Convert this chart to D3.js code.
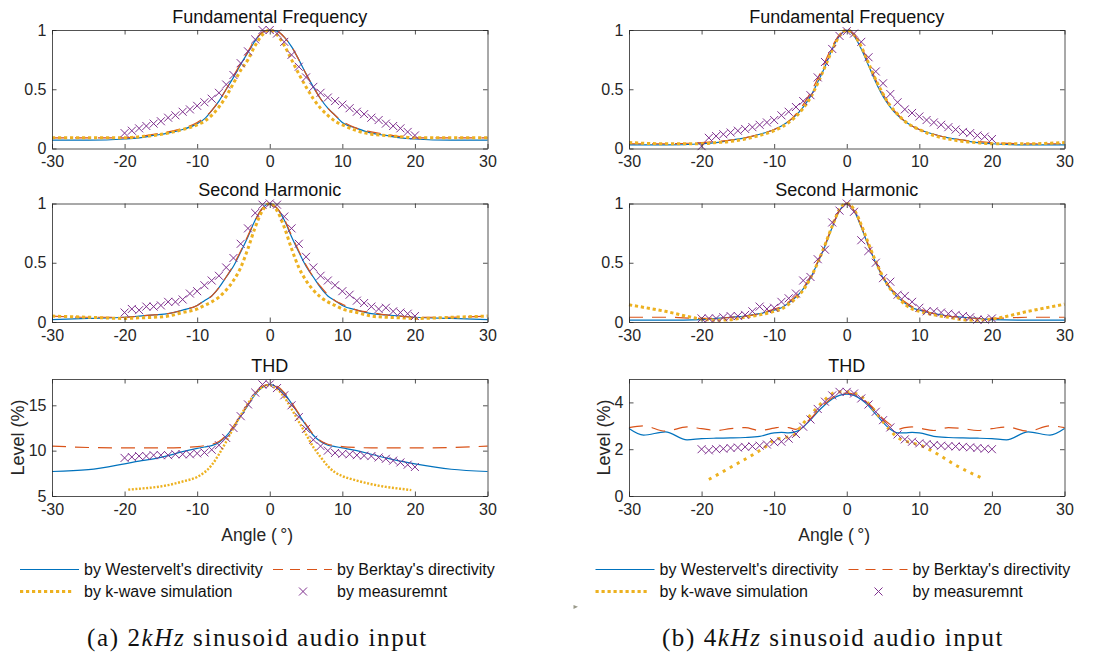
<!DOCTYPE html>
<html>
<head>
<meta charset="utf-8">
<script src="https://cdn.jsdelivr.net/npm/d3@7"></script>
<style>
  body { margin: 0; background: #fff; }
  svg { display: block; }
</style>
</head>
<body>
<svg id="chart" width="1096" height="661"></svg>
<script>
// ---- angle grids (degrees) ----
const angles = [-30, -25, -20, -18, -16, -14, -12, -10, -9, -8, -7, -6, -5, -4, -3, -2, -1, 0,
    1, 2, 3, 4, 5, 6, 7, 8, 9, 10, 12, 14, 16, 18, 20, 25, 30];
const anglesMeas = [-20, -19, -18, -17, -16, -15, -14, -13, -12, -11, -10, -9, -8, -7, -6, -5, -4, -3, -2, -1, 0,
    1, 2, 3, 4, 5, 6, 7, 8, 9, 10, 11, 12, 13, 14, 15, 16, 17, 18, 19, 20];
const anglesKwaveThd2k = [-19.5, -18, -16, -14, -12, -10, -9, -8, -7, -6, -5, -4, -3, -2, -1, 0,
    1, 2, 3, 4, 5, 6, 7, 8, 9, 10, 12, 14, 16, 18, 19.5];
const anglesThd4k = [-30, -28, -25, -22, -20, -18, -16, -14, -12, -10, -9, -8, -7, -6, -5, -4, -3, -2, -1, 0,
    1, 2, 3, 4, 5, 6, 7, 8, 9, 10, 12, 14, 16, 18, 20, 22, 25, 28, 30];
const anglesKwaveThd4k = [-19, -17, -15, -13, -11, -10, -9, -8, -7, -6, -5, -4, -3, -2, -1, 0,
    1, 2, 3, 4, 5, 6, 7, 8, 9, 10, 11, 13, 15, 17, 19];

// ---- tick labels ----
const xTicks = [-30, -20, -10, 0, 10, 20, 30];
const yTicksNorm = [0, 0.5, 1];
const yTicksThd2k = [5, 10, 15];
const yTicksThd4k = [0, 2, 4];

// ---- (a) 2 kHz ----
const fund2kWestervelt = [.07, .07, .08, .09, .11, .13, .16, .21, .25, .32, .40, .50, .60, .71, .81, .91, .98, 1.0,
    .99, .94, .86, .75, .63, .52, .42, .34, .28, .22, .17, .13, .11, .09, .08, .07, .07];
const fund2kBerktay = [.09, .09, .09, .10, .12, .14, .17, .22, .26, .32, .40, .50, .61, .72, .82, .92, .98, 1.0,
    .99, .94, .86, .75, .63, .52, .42, .34, .28, .23, .17, .14, .12, .10, .09, .09, .09];
const fund2kKwave = [.09, .09, .09, .10, .11, .13, .16, .20, .23, .28, .35, .44, .55, .66, .75, .87, .96, 1.0,
    .96, .87, .75, .63, .52, .42, .34, .28, .23, .20, .15, .12, .11, .10, .09, .09, .09];
const fund2kMeas = [.13, .15, .17, .19, .21, .23, .26, .28, .31, .33, .36, .39, .42, .47, .54, .62, .72, .82, .92, 1.0, 1.0,
    .97, .90, .79, .69, .60, .52, .47, .43, .40, .37, .34, .31, .29, .26, .24, .21, .19, .17, .14, .11];

const harm2kWestervelt = [.02, .03, .04, .05, .06, .07, .10, .14, .18, .22, .29, .38, .47, .59, .72, .86, .96, 1.0,
    .96, .86, .72, .59, .47, .38, .29, .22, .18, .14, .10, .07, .06, .05, .04, .03, .02];
const harm2kBerktay = [.05, .04, .04, .05, .06, .07, .10, .14, .18, .22, .29, .38, .48, .60, .73, .86, .96, 1.0,
    .96, .87, .73, .60, .48, .38, .30, .23, .18, .15, .10, .08, .06, .05, .04, .04, .05];
const harm2kKwave = [.05, .04, .03, .035, .04, .05, .08, .11, .14, .17, .21, .27, .35, .46, .62, .80, .94, 1.0,
    .94, .80, .62, .46, .35, .27, .21, .17, .14, .11, .08, .05, .04, .035, .03, .04, .05];
const harm2kMeas = [.08, .11, .10, .13, .13, .14, .17, .17, .19, .24, .26, .31, .35, .39, .46, .54, .66, .79, .92, .99, 1.0,
    .99, .89, .79, .66, .55, .46, .39, .35, .31, .26, .23, .18, .16, .13, .11, .12, .09, .08, .07, .05];

const thd2kWestervelt = [7.7, 7.9, 8.55, 8.85, 9.1, 9.45, 9.9, 10.25, 10.4, 10.55, 10.9, 11.6, 12.6, 13.8, 15.0, 16.2, 17.0, 17.3,
    17.0, 16.3, 15.2, 14.0, 12.8, 11.7, 11.0, 10.6, 10.45, 10.3, 10.0, 9.6, 9.2, 8.85, 8.55, 7.95, 7.7];
const thd2kBerktay = [10.5, 10.35, 10.3, 10.3, 10.3, 10.3, 10.35, 10.45, 10.55, 10.7, 11.0, 11.7, 12.7, 13.9, 15.1, 16.3, 17.1, 17.3,
    17.1, 16.4, 15.3, 14.1, 12.9, 11.8, 11.1, 10.7, 10.55, 10.45, 10.35, 10.3, 10.3, 10.3, 10.3, 10.35, 10.5];
const thd2kKwave = [5.7, 5.8, 5.95, 6.2, 6.6, 7.1, 7.6, 8.4, 9.6, 11.0, 12.5, 13.9, 15.2, 16.3, 17.0, 17.2,
    16.8, 15.9, 14.6, 13.2, 11.8, 10.4, 9.3, 8.3, 7.6, 7.2, 6.7, 6.3, 6.0, 5.8, 5.65];
const thd2kMeas = [9.2, 9.3, 9.4, 9.4, 9.5, 9.5, 9.5, 9.6, 9.6, 9.6, 9.7, 9.8, 10.1, 10.6, 11.4, 12.5, 13.8, 15.1, 16.4, 17.3, 17.3,
    16.9, 16.1, 15.0, 13.7, 12.4, 11.2, 10.5, 10.0, 9.75, 9.65, 9.6, 9.5, 9.45, 9.4, 9.25, 9.1, 8.9, 8.7, 8.45, 8.2];

// ---- (b) 4 kHz ----
const fund4kWestervelt = [.03, .03, .04, .05, .07, .09, .12, .16, .19, .23, .28, .35, .44, .56, .69, .84, .95, 1.0,
    .95, .84, .70, .56, .44, .35, .28, .23, .19, .16, .12, .09, .07, .05, .04, .03, .03];
const fund4kBerktay = [.04, .04, .05, .06, .07, .09, .12, .16, .19, .23, .29, .37, .47, .59, .73, .86, .96, 1.0,
    .96, .86, .72, .58, .46, .36, .29, .23, .19, .16, .12, .09, .07, .06, .05, .04, .04];
const fund4kKwave = [.05, .04, .04, .05, .06, .08, .11, .15, .18, .22, .27, .34, .43, .55, .69, .83, .95, 1.0,
    .96, .86, .72, .58, .46, .36, .29, .23, .19, .16, .11, .08, .06, .05, .04, .04, .05];
const fund4kMeas = [.02, .09, .105, .12, .135, .15, .165, .18, .20, .22, .24, .28, .31, .35, .40, .45, .60, .73, .84, .95, .99,
    .97, .90, .77, .65, .55, .46, .39, .33, .30, .27, .24, .22, .20, .18, .16, .14, .13, .11, .10, .08];

const harm4kWestervelt = [.015, .015, .02, .03, .04, .05, .07, .10, .12, .16, .21, .28, .37, .50, .64, .80, .94, 1.0,
    .94, .80, .64, .50, .37, .28, .21, .16, .12, .10, .07, .05, .04, .03, .02, .015, .015];
const harm4kBerktay = [.04, .04, .03, .03, .04, .05, .07, .11, .13, .17, .22, .29, .38, .51, .65, .81, .94, 1.0,
    .94, .81, .65, .51, .38, .29, .22, .17, .13, .11, .07, .05, .04, .03, .03, .04, .04];
const harm4kKwave = [.145, .09, .025, .015, .02, .04, .06, .09, .11, .15, .20, .27, .37, .50, .65, .81, .95, 1.0,
    .95, .82, .66, .51, .38, .28, .21, .15, .11, .09, .06, .04, .02, .015, .025, .09, .15];
const harm4kMeas = [.03, .03, .03, .04, .05, .05, .06, .09, .13, .11, .12, .17, .20, .24, .35, .38, .53, .61, .84, .94, 1.0,
    .93, .69, .60, .50, .37, .34, .23, .22, .17, .12, .09, .09, .08, .07, .06, .05, .04, .02, .02, .03];

const thd4kWestervelt = [2.88, 2.6, 2.74, 2.4, 2.45, 2.47, 2.48, 2.5, 2.55, 2.7, 2.72, 2.7, 2.75, 2.95, 3.25, 3.6, 3.9, 4.15, 4.3, 4.35,
    4.3, 4.12, 3.85, 3.5, 3.15, 2.85, 2.7, 2.7, 2.72, 2.7, 2.55, 2.5, 2.48, 2.47, 2.45, 2.4, 2.74, 2.6, 2.88];
const thd4kBerktay = [2.92, 3.0, 2.77, 2.95, 2.88, 2.8, 2.88, 2.92, 2.8, 2.9, 2.95, 2.92, 2.85, 3.05, 3.3, 3.65, 3.95, 4.2, 4.35, 4.4,
    4.35, 4.2, 3.95, 3.65, 3.3, 3.05, 2.85, 2.92, 2.95, 2.9, 2.8, 2.92, 2.88, 2.8, 2.88, 2.95, 2.77, 3.0, 2.92];
const thd4kKwave = [.71, 1.05, 1.4, 1.75, 2.15, 2.4, 2.47, 2.53, 2.67, 3.1, 3.46, 3.8, 4.12, 4.38, 4.45, 4.45,
    4.4, 4.25, 3.95, 3.58, 3.17, 2.8, 2.5, 2.35, 2.27, 2.18, 2.05, 1.7, 1.32, 1.0, .71];
const thd4kMeas = [2.0, 1.95, 2.0, 2.02, 2.05, 2.07, 2.1, 2.12, 2.15, 2.2, 2.3, 2.32, 2.45, 2.65, 2.96, 3.27, 3.72, 4.03, 4.3, 4.45, 4.45,
    4.38, 4.17, 3.91, 3.6, 3.24, 2.93, 2.63, 2.42, 2.32, 2.25, 2.22, 2.18, 2.15, 2.13, 2.12, 2.1, 2.08, 2.05, 2.02, 2.0];

const legendLabels = ["by Westervelt's directivity", "by Berktay's directivity", 'by k-wave simulation', 'by measuremnt'];
const captions = ['(a) ', '(b) '];
const captionFreq = ['2', '4'];

// ---- layout & style ----
const TEXT = '#262626';
const FONT = '"Liberation Sans", Arial, Helvetica, sans-serif';
const colLeft = [52, 629];
const plotWidth = 435.5;
const rowTop = [30, 203.5, 379];
const rowBottom = [148.5, 322, 496];

const styles = {
    westervelt: { color: '#0072BD', width: 1.2, dash: null },
    berktay: { color: '#D95319', width: 1.2, dash: '14,9' },
    kwave: { color: '#EDB120', width: 3, dash: '3.2,2.8' },
    meas: { color: '#7E2F8E', size: 4 }
};

const panels = [
    { col: 0, row: 0, title: 'Fundamental Frequency', ylim: [0, 1], yticks: yTicksNorm,
      w: [angles, fund2kWestervelt], b: [angles, fund2kBerktay], k: [angles, fund2kKwave], m: [anglesMeas, fund2kMeas] },
    { col: 0, row: 1, title: 'Second Harmonic', ylim: [0, 1], yticks: yTicksNorm,
      w: [angles, harm2kWestervelt], b: [angles, harm2kBerktay], k: [angles, harm2kKwave], m: [anglesMeas, harm2kMeas] },
    { col: 0, row: 2, title: 'THD', ylim: [5, 17.9], yticks: yTicksThd2k, kdash: '2,1.6', kwidth: 2.4,
      w: [angles, thd2kWestervelt], b: [angles, thd2kBerktay], k: [anglesKwaveThd2k, thd2kKwave], m: [anglesMeas, thd2kMeas] },
    { col: 1, row: 0, title: 'Fundamental Frequency', ylim: [0, 1], yticks: yTicksNorm,
      w: [angles, fund4kWestervelt], b: [angles, fund4kBerktay], k: [angles, fund4kKwave], m: [anglesMeas, fund4kMeas] },
    { col: 1, row: 1, title: 'Second Harmonic', ylim: [0, 1], yticks: yTicksNorm,
      w: [angles, harm4kWestervelt], b: [angles, harm4kBerktay], k: [angles, harm4kKwave], m: [anglesMeas, harm4kMeas] },
    { col: 1, row: 2, title: 'THD', ylim: [0, 5], yticks: yTicksThd4k, kdash: '3,5',
      w: [anglesThd4k, thd4kWestervelt], b: [anglesThd4k, thd4kBerktay], k: [anglesKwaveThd4k, thd4kKwave], m: [anglesMeas, thd4kMeas] }
];

const svg = d3.select('#chart');
svg.append('rect').attr('width', 1096).attr('height', 661).attr('fill', '#fff');

function styleAxis(g, size) {
    g.attr('color', TEXT);
    g.select('.domain').attr('stroke-width', 0.8);
    g.selectAll('.tick line').attr('stroke-width', 0.8);
    g.selectAll('text')
        .style('font-family', FONT)
        .style('font-size', size + 'px');
}

function drawCrosses(g, xs, ys, x, y, st) {
    const s = st.size;
    g.append('g')
        .selectAll('path')
        .data(xs.map((d, i) => [d, ys[i]]))
        .join('path')
        .attr('d', d => `M${x(d[0]) - s},${y(d[1]) - s}L${x(d[0]) + s},${y(d[1]) + s}M${x(d[0]) - s},${y(d[1]) + s}L${x(d[0]) + s},${y(d[1]) - s}`)
        .attr('stroke', st.color)
        .attr('stroke-width', 1)
        .attr('fill', 'none');
}

function drawCurve(g, xs, ys, x, y, st, dash, width) {
    const line = d3.line()
        .x(d => x(d[0]))
        .y(d => y(d[1]))
        .curve(d3.curveMonotoneX);
    g.append('path')
        .datum(xs.map((d, i) => [d, ys[i]]))
        .attr('d', line)
        .attr('fill', 'none')
        .attr('stroke', st.color)
        .attr('stroke-width', width || st.width)
        .attr('stroke-dasharray', dash || st.dash);
}

function drawPanel(p) {
    const x0 = colLeft[p.col];
    const top = rowTop[p.row];
    const bottom = rowBottom[p.row];

    const xScale = d3.scaleLinear().domain([-30, 30]).range([x0, x0 + plotWidth]);
    const yScale = d3.scaleLinear().domain(p.ylim).range([bottom, top]);

    const g = svg.append('g');

    // curves first, frame on top
    drawCurve(g, p.w[0], p.w[1], xScale, yScale, styles.westervelt);
    drawCurve(g, p.b[0], p.b[1], xScale, yScale, styles.berktay);
    drawCurve(g, p.k[0], p.k[1], xScale, yScale, styles.kwave, p.kdash, p.kwidth);
    drawCrosses(g, p.m[0], p.m[1], xScale, yScale, styles.meas);

    g.append('g')
        .attr('transform', `translate(0,${bottom})`)
        .call(d3.axisBottom(xScale).tickValues(xTicks).tickSizeInner(-4.5).tickSizeOuter(0)
            .tickPadding(7.5).tickFormat(d => String(d)))
        .call(ax => styleAxis(ax, 16));

    g.append('g')
        .attr('transform', `translate(0,${top})`)
        .call(d3.axisTop(xScale).tickValues(xTicks).tickSizeInner(-4.5).tickSizeOuter(0).tickFormat(''))
        .call(ax => styleAxis(ax, 16));

    g.append('g')
        .attr('transform', `translate(${x0},0)`)
        .call(d3.axisLeft(yScale).tickValues(p.yticks).tickSizeInner(-4.5).tickSizeOuter(0)
            .tickPadding(5.5).tickFormat(d => String(d)))
        .call(ax => styleAxis(ax, 16));

    g.append('g')
        .attr('transform', `translate(${x0 + plotWidth},0)`)
        .call(d3.axisRight(yScale).tickValues(p.yticks).tickSizeInner(-4.5).tickSizeOuter(0).tickFormat(''))
        .call(ax => styleAxis(ax, 16));

    g.append('text')
        .attr('x', x0 + plotWidth / 2)
        .attr('y', top - 7.5)
        .attr('text-anchor', 'middle')
        .style('font-family', FONT)
        .style('font-size', '18px')
        .attr('fill', '#111')
        .text(p.title);
}

panels.forEach(drawPanel);

// axis labels
const levelX = [23.5, 610];
[0, 1].forEach(c => {
    const x0 = colLeft[c];
    svg.append('text')
        .attr('transform', `translate(${levelX[c]},${(rowTop[2] + rowBottom[2]) / 2}) rotate(-90)`)
        .attr('text-anchor', 'middle')
        .style('font-family', FONT)
        .style('font-size', '18px')
        .attr('fill', TEXT)
        .text('Level (%)');

    svg.append('text')
        .attr('x', x0 + plotWidth / 2 - 12.5)
        .attr('y', 540.5)
        .attr('text-anchor', 'middle')
        .style('font-family', FONT)
        .style('font-size', '17.5px')
        .attr('fill', TEXT)
        .text('Angle (\u2009°)');
});

// legends
function drawLegend(lx) {
    const g = svg.append('g').attr('transform', `translate(${lx},0)`);
    const rows = [569.5, 591.5];
    const entries = [
        { key: 'westervelt', dx: 0, row: 0 },
        { key: 'berktay', dx: 253, row: 0 },
        { key: 'kwave', dx: 0, row: 1 },
        { key: 'meas', dx: 253, row: 1 }
    ];
    entries.forEach((e, i) => {
        const st = styles[e.key];
        const yy = rows[e.row];
        if (e.key === 'meas') {
            const s = st.size, cx = e.dx + 30;
            g.append('path')
                .attr('d', `M${cx - s},${yy - s}L${cx + s},${yy + s}M${cx - s},${yy + s}L${cx + s},${yy - s}`)
                .attr('stroke', st.color)
                .attr('stroke-width', 1);
        } else {
            g.append('line')
                .attr('x1', e.dx).attr('x2', e.dx + (e.key === 'kwave' ? 53 : 59))
                .attr('y1', yy).attr('y2', yy)
                .attr('stroke', st.color)
                .attr('stroke-width', e.key === 'kwave' ? 3 : 1.2)
                .attr('stroke-dasharray', e.key === 'berktay' ? '10,7' : st.dash);
        }
        g.append('text')
            .attr('x', e.dx + 64)
            .attr('y', yy + 5.8)
            .style('font-family', FONT)
            .style('font-size', '16px')
            .attr('fill', '#111')
            .text(legendLabels[i]);
    });
}
drawLegend(20);
drawLegend(595.5);

// captions
const capX = [257.5, 833];
[0, 1].forEach(c => {
    const t = svg.append('text')
        .attr('x', capX[c])
        .attr('y', 646)
        .attr('text-anchor', 'middle')
        .style('font-family', '"Liberation Serif", "Times New Roman", serif')
        .style('font-size', '25px')
        .style('letter-spacing', '1.6px')
        .attr('fill', '#111');
    t.append('tspan').text(captions[c] + captionFreq[c]);
    t.append('tspan').style('font-style', 'italic').text('kHz');
    t.append('tspan').text(' sinusoid audio input');
});

// small stray mark in the source figure
svg.append('path')
    .attr('d', 'M573.5,605L578,606.8L573.5,609Z')
    .attr('fill', '#9a9a8a');
</script>
</body>
</html>
